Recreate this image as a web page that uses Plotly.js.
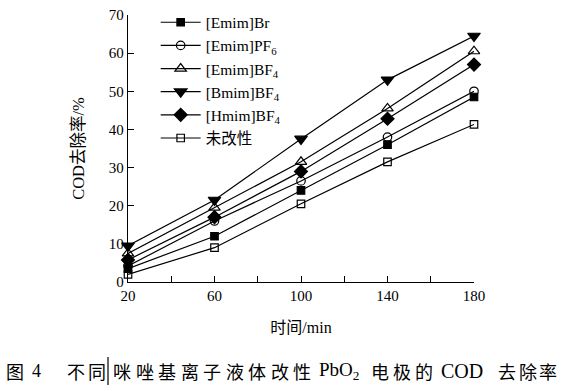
<!DOCTYPE html>
<html>
<head>
<meta charset="utf-8">
<script src="https://cdn.plot.ly/plotly-3.0.1.min.js"></script>
<style>html,body{margin:0;padding:0;background:#fff;}#chart{width:566px;height:391px;}</style>
</head>
<body>
<div id="chart"></div>
<script>
const times = [20, 60, 100, 140, 180];
const seriesNames = ["[Emim]Br", "[Emim]PF<sub>6</sub>", "[Emim]BF<sub>4</sub>", "[Bmim]BF<sub>4</sub>", "[Hmim]BF<sub>4</sub>", "未改性"];
const emimBr   = [3.5, 12.0, 24.0, 36.0, 48.5];
const emimPF6  = [4.2, 16.0, 26.5, 38.0, 50.0];
const emimBF4  = [7.5, 19.5, 31.5, 45.5, 60.5];
const bmimBF4  = [9.5, 21.5, 37.5, 53.0, 64.5];
const hmimBF4  = [5.8, 17.0, 29.0, 42.8, 57.0];
const unmodified = [2.0, 9.0, 20.5, 31.5, 41.3];
const xTicks = [20, 60, 100, 140, 180];
const yTicks = [0, 10, 20, 30, 40, 50, 60, 70];

const values = [emimBr, emimPF6, emimBF4, bmimBF4, hmimBF4, unmodified];
const symbols = ["square", "circle-open", "triangle-up-open", "triangle-down", "diamond", "square-open"];
const sizes = [7.5, 8.5, 10, 11, 10, 7.5];

const serif = "Liberation Serif, Times New Roman, Noto Sans CJK SC, serif";
const cjk = "Noto Sans CJK SC, sans-serif";

// plot area geometry (px) for placing caption pieces in paper coords
const L = 128, R = 92, T = 15, B = 109, W = 566, H = 391;
const pw = W - L - R, ph = H - T - B;
const px2x = px => (px - L) / pw;
const py2y = py => (H - B - py) / ph;

const traces = values.map((v, i) => ({
  x: times, y: v, name: seriesNames[i], type: "scatter", mode: "lines+markers",
  line: {color: "#000", width: 1.2},
  marker: {symbol: symbols[i], size: sizes[i], color: "#000", line: {color: "#000", width: 1.2}},
  cliponaxis: false
}));

// caption pieces: [text, left px, font, size, char pitch (0 = whole string)]
const captionPieces = [
  ["图", 5, cjk, 18, 0],
  ["4", 31, serif, 18, 0],
  ["不同", 66, cjk, 18, 21],
  ["咪唑基离子液体改性", 112, cjk, 18, 22.5],
  ["PbO<sub>2</sub>", 318, serif, 19, 0],
  ["电极的", 370, cjk, 18, 22],
  ["COD", 440, serif, 20, 0],
  ["去除率", 497, cjk, 18, 20.5]
];
const captionY = 371;
const annotations = [];
captionPieces.forEach(([t, x0, fam, sz, pitch]) => {
  const parts = pitch ? Array.from(t) : [t];
  parts.forEach((c, k) => {
    annotations.push({xref: "paper", yref: "paper", x: px2x(x0 + k * pitch), y: py2y(captionY),
      xanchor: "left", yanchor: "middle", text: c, showarrow: false, borderpad: 0,
      font: {family: fam, size: sz, color: "#000"}});
  });
});

const layout = {
  width: W, height: H,
  margin: {l: L, r: R, t: T, b: B, autoexpand: false},
  paper_bgcolor: "#fff", plot_bgcolor: "#fff",
  font: {family: serif, size: 15, color: "#000"},
  showlegend: true,
  legend: {x: 0.08, y: 1.035, xanchor: "left", yanchor: "top", bgcolor: "rgba(0,0,0,0)",
           font: {family: serif, size: 15.5, color: "#000"}, tracegroupgap: 0, itemwidth: 40},
  xaxis: {range: [20, 180], tickvals: xTicks, ticks: "inside", ticklen: 6, tickcolor: "#000",
          showline: true, linecolor: "#000", linewidth: 1.2, showgrid: false, zeroline: false,
          automargin: false,
          minor: {dtick: 20, ticks: "inside", ticklen: 6, tickcolor: "#000"},
          title: {text: "时间/min", font: {family: serif, size: 16}, standoff: 18},
          tickfont: {family: serif, size: 15}},
  yaxis: {range: [0, 70], tickvals: yTicks, ticks: "inside", ticklen: 6, tickcolor: "#000",
          showline: true, linecolor: "#000", linewidth: 1.2, showgrid: false, zeroline: false,
          automargin: false,
          title: {text: "COD去除率/%", font: {family: serif, size: 16.5}, standoff: 20},
          tickfont: {family: serif, size: 15}},
  annotations: annotations,
  shapes: [
    {type: "line", xref: "paper", yref: "paper", x0: px2x(108), x1: px2x(108),
     y0: py2y(357), y1: py2y(385), line: {color: "#000", width: 1.2}}
  ]
};

Plotly.newPlot("chart", traces, layout, {staticPlot: true});
</script>
</body>
</html>
